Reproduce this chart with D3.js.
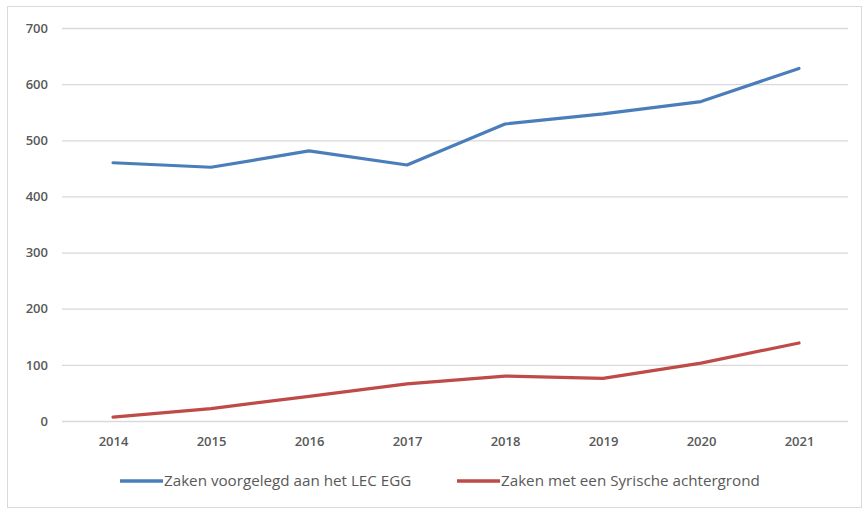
<!DOCTYPE html>
<html><head><meta charset="utf-8">
<script src="https://cdn.jsdelivr.net/npm/d3@7"></script>
<style>body{margin:0;background:#fff}svg{display:block}</style>
</head><body>
<svg id="c" width="864" height="510"></svg>
<script>
const years = ["2014","2015","2016","2017","2018","2019","2020","2021"];
const lecEgg = [460, 452, 481, 456, 529, 547, 569, 628];
const syrisch = [7, 22, 44, 66, 80, 76, 103, 139];
const yTicks = [0,100,200,300,400,500,600,700];
const seriesNames = ["Zaken voorgelegd aan het LEC EGG","Zaken met een Syrische achtergrond"];
const colors = ["#4a7ebb","#be4b48"];

const svg = d3.select("#c");
svg.append("rect").attr("x",7.5).attr("y",6.5).attr("width",854).attr("height",501)
  .attr("fill","#fff").attr("stroke","#d9d9d9");

const x = d3.scalePoint().domain(years).range([113,799]);
const y = d3.scaleLinear().domain([0,700]).range([421,28]);

const yAxis = d3.axisLeft(y).tickValues(yTicks).tickSize(-(848-62)).tickPadding(14);
const gy = svg.append("g").attr("transform","translate(62,0)").call(yAxis);
gy.select(".domain").remove();
gy.selectAll(".tick line").attr("stroke","#d9d9d9").attr("stroke-width",1.3);
gy.selectAll(".tick text").attr("fill","#595959").style("font-family","Open Sans").style("font-size","13px").style("font-weight","600");

const xAxis = d3.axisBottom(x).tickSize(0).tickPadding(16);
const gx = svg.append("g").attr("transform","translate(0,421)").call(xAxis);
gx.select(".domain").remove();
gx.selectAll(".tick text").attr("fill","#595959").style("font-family","Open Sans").style("font-size","13px").style("font-weight","600");

const line = d3.line().x((d,i)=>x(years[i])).y(d=>y(d));
[lecEgg, syrisch].forEach((s,k)=>{
  svg.append("path").datum(s).attr("d",line).attr("fill","none")
    .attr("stroke",colors[k]).attr("stroke-width",3.2)
    .attr("stroke-linejoin","round").attr("stroke-linecap","round");
});

const legX = [120, 457];
seriesNames.forEach((n,k)=>{
  const g = svg.append("g").attr("transform",`translate(${legX[k]},481)`);
  g.append("line").attr("x1",0).attr("x2",43).attr("stroke",colors[k]).attr("stroke-width",3.5);
  g.append("text").attr("x",44).attr("dy","0.35em").text(n)
    .attr("fill","#595959").style("font-family","Open Sans").style("font-size","15.2px");
});
</script>
</body></html>
